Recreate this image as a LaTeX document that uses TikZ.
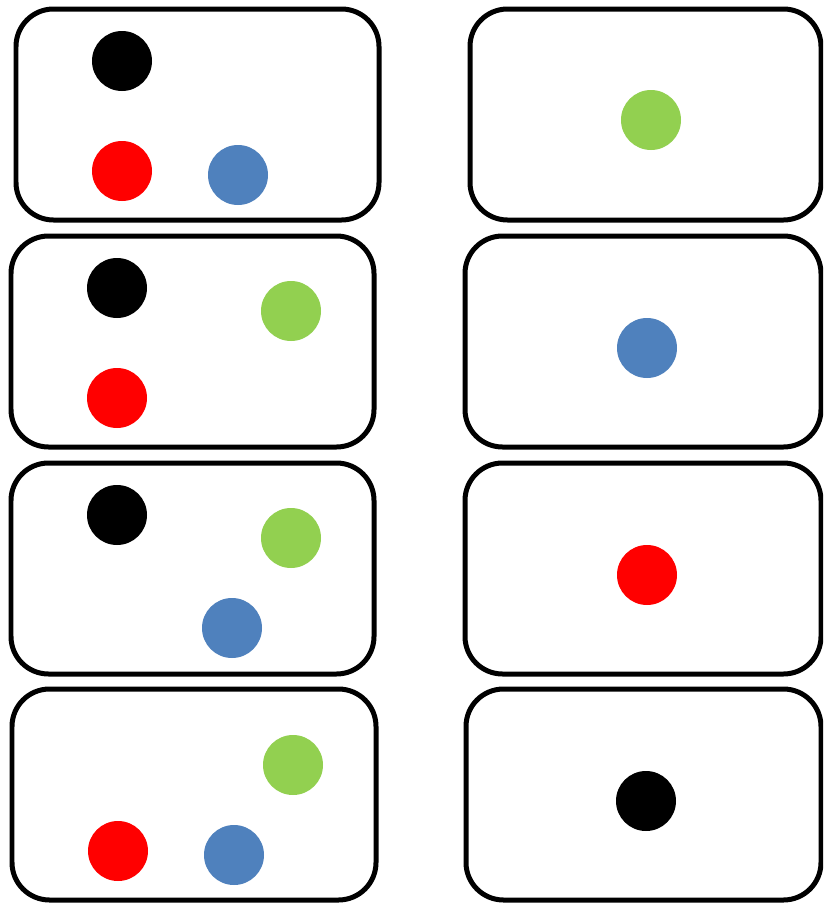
\documentclass[tikz,border=0pt]{standalone}
\usepackage{xcolor}
\usepackage{tikz}
\definecolor{dotRed}{HTML}{FF0000}
\definecolor{dotBlue}{HTML}{4F81BD}
\definecolor{dotGreen}{HTML}{92D050}
\tikzset{
  card/.style={draw=black, line width=0.1cm, rounded corners=0.75cm, fill=white},
  dot/.style={draw=none}
}
\begin{document}
\begin{tikzpicture}[x=0.02cm, y=-0.02cm]
      \useasboundingbox (0,0) rectangle (823,903);
      \clip (0,0) rectangle (823,903);

      % --- left column: three-ball cards ---
      \draw[card] (16,9) rectangle (379,220);
      \draw[card] (11,236) rectangle (374,447);
      \draw[card] (11,463) rectangle (374,674);
      \draw[card] (12,689) rectangle (376,900);

      % --- right column: one-ball cards (cut at the edge) ---
      \draw[card] (470,9) rectangle (821,220);
      \draw[card] (465,236) rectangle (821,447);
      \draw[card] (465,463) rectangle (821,674);
      \draw[card] (466,689) rectangle (821,900);

      % row 1
      \fill[dot, black] (122,61) circle (30);
      \fill[dot, dotRed] (122,171) circle (30);
      \fill[dot, dotBlue] (238,175) circle (30);
      \fill[dot, dotGreen] (651,120) circle (30);

      % row 2
      \fill[dot, black] (117,288) circle (30);
      \fill[dot, dotGreen] (291,311) circle (30);
      \fill[dot, dotRed] (117,398) circle (30);
      \fill[dot, dotBlue] (647,348) circle (30);

      % row 3
      \fill[dot, black] (117,515) circle (30);
      \fill[dot, dotGreen] (291,538) circle (30);
      \fill[dot, dotBlue] (232,628) circle (30);
      \fill[dot, dotRed] (647,575) circle (30);

      % row 4
      \fill[dot, dotGreen] (293,765) circle (30);
      \fill[dot, dotRed] (118,851) circle (30);
      \fill[dot, dotBlue] (234,855) circle (30);
      \fill[dot, black] (646,801) circle (30);
\end{tikzpicture}
\end{document}
